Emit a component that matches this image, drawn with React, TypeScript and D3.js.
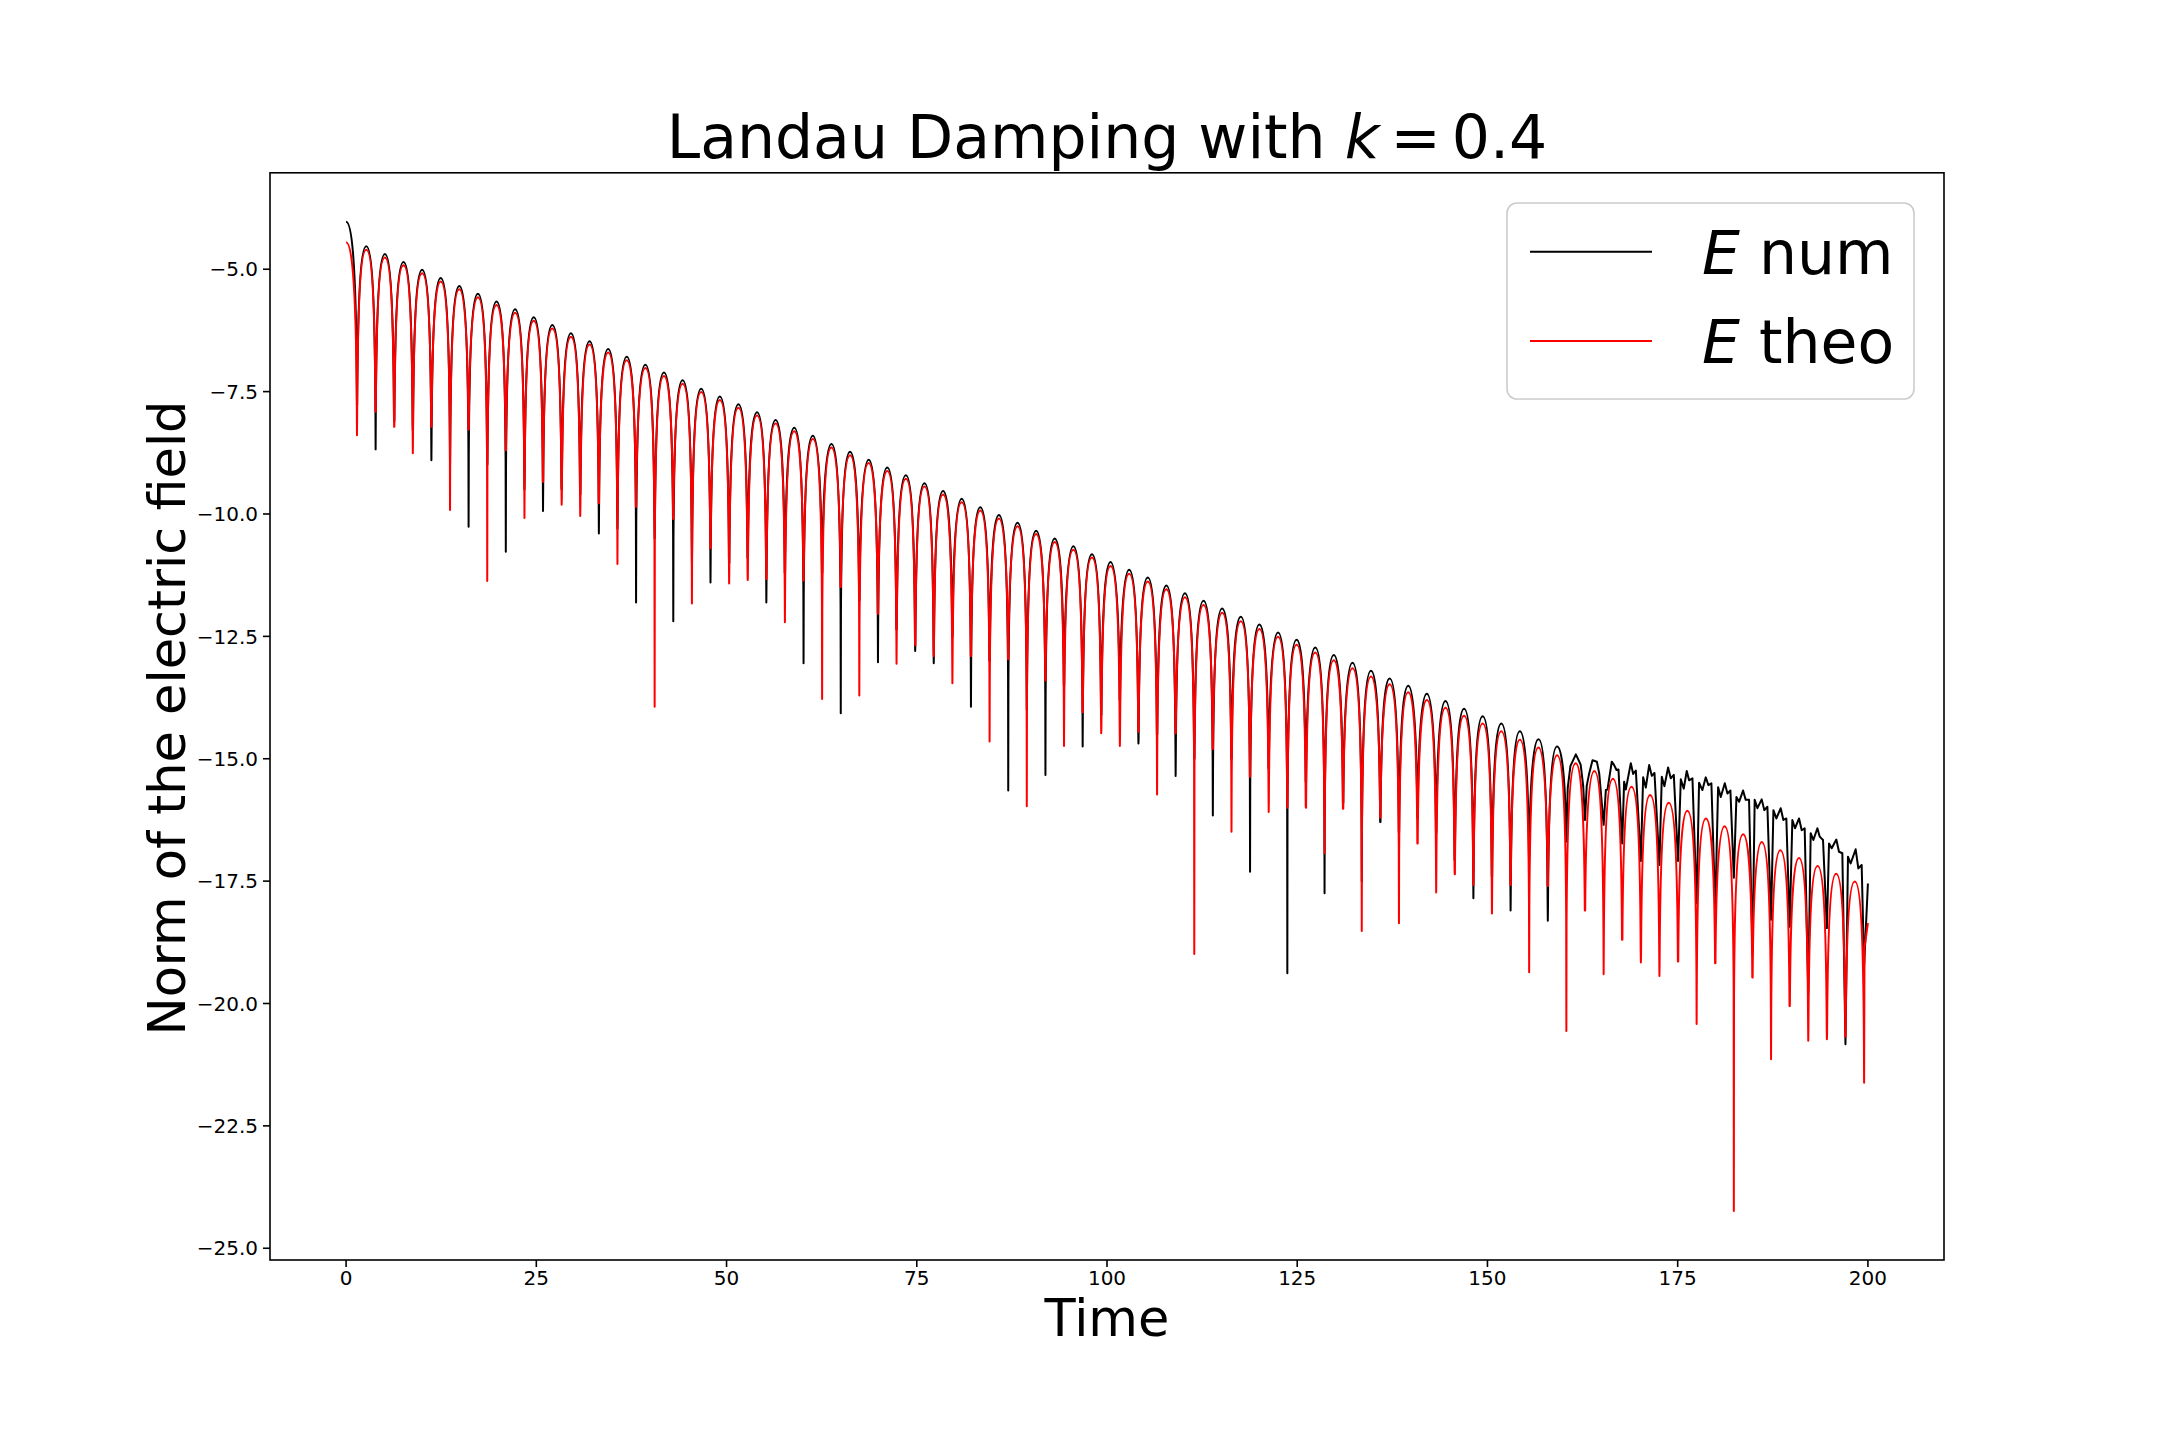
import React from 'react';
import * as d3 from 'd3';

// times of the zero crossings of E (the downward spikes)
const dipTimes = [
  1.43, 3.88, 6.32, 8.77, 11.21, 13.66, 16.10, 18.55, 20.99, 23.44,
  25.88, 28.33, 30.77, 33.22, 35.66, 38.11, 40.55, 43.00, 45.45, 47.89,
  50.34, 52.78, 55.23, 57.67, 60.12, 62.56, 65.01, 67.45, 69.90, 72.34,
  74.79, 77.23, 79.68, 82.12, 84.57, 87.02, 89.46, 91.91, 94.35, 96.80,
  99.24, 101.69, 104.13, 106.58, 109.02, 111.47, 113.91, 116.36, 118.80, 121.25,
  123.70, 126.14, 128.59, 131.03, 133.48, 135.92, 138.37, 140.81, 143.26, 145.70,
  148.15, 150.59, 153.04, 155.48, 157.93, 160.37, 162.82, 165.27, 167.71, 170.16,
  172.60, 175.05, 177.49, 179.94, 182.38, 184.83, 187.27, 189.72, 192.16, 194.61,
  197.05, 199.50,
];

// depth of each spike, theoretical curve
const dipTheo = [
  -8.39, -7.91, -8.22, -8.76, -8.22, -9.92, -8.28, -11.37, -8.70, -10.08,
  -9.34, -9.81, -10.04, -9.78, -11.02, -9.85, -13.94, -10.10, -11.83, -10.70,
  -11.42, -11.35, -11.33, -12.21, -11.36, -13.78, -11.49, -13.71, -12.04, -13.06,
  -12.68, -12.90, -13.46, -12.90, -14.65, -12.97, -15.97, -13.40, -14.74, -14.05,
  -14.48, -14.74, -14.45, -15.73, -14.48, -18.99, -14.80, -16.49, -15.37, -16.09,
  -16.00, -16.00, -16.93, -16.02, -18.52, -16.20, -18.36, -16.73, -17.73, -17.36,
  -17.58, -18.16, -17.58, -19.36, -17.60, -20.56, -18.10, -19.40, -18.70, -19.16,
  -19.44, -19.14, -20.42, -19.18, -24.24, -19.47, -21.14, -20.05, -20.76, -20.73,
  -20.68, -21.62,
];

// depth of each spike, numerical curve (up to the point where it gets noisy)
const dipNum = [
  -7.77, -8.68, -8.10, -8.30, -8.90, -9.00, -10.26, -9.00, -10.77, -9.50,
  -9.94, -9.50, -9.60, -10.40, -10.30, -11.81, -10.50, -12.19, -11.00, -11.40,
  -11.00, -10.90, -11.81, -11.20, -13.05, -11.20, -14.07, -11.76, -13.03, -12.36,
  -12.80, -13.05, -12.50, -13.94, -13.00, -15.65, -14.00, -15.33, -13.50, -14.75,
  -14.10, -13.80, -14.69, -14.50, -15.35, -15.00, -16.16, -15.00, -17.31, -15.20,
  -19.38, -15.47, -17.75, -15.90, -17.51, -16.29, -16.50, -16.20, -16.50, -17.07,
  -17.85, -17.40, -18.10, -17.00, -18.31, -16.69,
];

// crest of each arch (arch 0 = value at t = 0, arch i lies between spike i-1 and spike i)
const peakTheo = [
  -4.45, -4.60, -4.76, -4.92, -5.08, -5.25, -5.41, -5.57, -5.73, -5.89,
  -6.05, -6.21, -6.38, -6.54, -6.70, -6.86, -7.02, -7.18, -7.34, -7.51,
  -7.67, -7.83, -7.99, -8.15, -8.31, -8.47, -8.64, -8.80, -8.96, -9.12,
  -9.28, -9.44, -9.60, -9.76, -9.93, -10.09, -10.25, -10.41, -10.57, -10.73,
  -10.89, -11.06, -11.22, -11.38, -11.54, -11.70, -11.86, -12.02, -12.19, -12.35,
  -12.51, -12.67, -12.83, -12.99, -13.15, -13.32, -13.48, -13.64, -13.80, -13.96,
  -14.12, -14.28, -14.44, -14.61, -14.77, -14.93, -15.09, -15.25, -15.41, -15.57,
  -15.74, -15.90, -16.06, -16.22, -16.38, -16.54, -16.70, -16.87, -17.03, -17.19,
  -17.35, -17.51,
];

const peakNum = [
  -4.03, -4.53, -4.69, -4.85, -5.01, -5.18, -5.34, -5.50, -5.66, -5.82,
  -5.98, -6.14, -6.31, -6.47, -6.63, -6.79, -6.95, -7.11, -7.27, -7.44,
  -7.60, -7.76, -7.92, -8.08, -8.24, -8.40, -8.57, -8.73, -8.89, -9.05,
  -9.21, -9.37, -9.53, -9.69, -9.86, -10.02, -10.18, -10.34, -10.50, -10.66,
  -10.82, -10.98, -11.14, -11.30, -11.46, -11.62, -11.77, -11.93, -12.10, -12.26,
  -12.42, -12.57, -12.73, -12.88, -13.04, -13.20, -13.36, -13.51, -13.67, -13.82,
  -13.98, -14.13, -14.28, -14.44, -14.60, -14.75,
];

// last point of the theoretical curve
const theoEnd: [number, number] = [200, -18.36];

// noisy end of the numerical curve, read point by point
const numTail: [number, number][] = [
  [160.55, -15.60], [160.90, -15.15], [161.62, -14.91], [162.25, -15.12], [162.58, -15.55], [162.82, -16.25],
  [163.05, -15.55], [163.37, -15.30], [163.81, -15.03], [164.38, -15.06], [164.69, -15.30], [165.27, -16.35],
  [165.56, -15.64], [165.77, -15.63], [166.34, -15.06], [166.65, -15.13], [166.96, -15.23], [167.22, -15.22], [167.71, -16.73],
  [167.96, -15.47], [168.18, -15.63], [168.84, -15.09], [169.15, -15.31], [169.50, -15.24], [170.16, -17.09],
  [170.46, -15.38], [170.81, -15.59], [171.25, -15.13], [171.60, -15.35], [171.95, -15.29], [172.60, -17.17],
  [172.91, -15.37], [173.26, -15.56], [173.74, -15.18], [174.09, -15.40], [174.49, -15.33], [175.05, -17.09],
  [175.41, -15.42], [175.80, -15.61], [176.19, -15.25], [176.50, -15.44], [176.94, -15.40], [177.49, -17.95],
  [177.81, -15.49], [178.25, -15.64], [178.69, -15.38], [179.04, -15.54], [179.43, -15.50], [179.94, -18.10],
  [180.31, -15.58], [180.66, -15.78], [181.19, -15.50], [181.54, -15.71], [181.93, -15.65], [182.38, -17.43],
  [182.72, -15.78], [183.07, -15.88], [183.59, -15.65], [183.94, -15.84], [184.38, -15.84], [184.83, -18.97],
  [185.12, -15.84], [185.48, -16.01], [186.04, -15.83], [186.39, -16.05], [186.79, -15.98], [187.27, -18.29],
  [187.58, -16.05], [187.97, -16.22], [188.54, -16.01], [188.89, -16.25], [189.28, -16.22], [189.72, -18.43],
  [190.07, -16.25], [190.42, -16.42], [190.95, -16.22], [191.30, -16.46], [191.69, -16.42], [192.16, -19.78],
  [192.48, -16.52], [192.83, -16.66], [193.36, -16.42], [193.66, -16.59], [194.10, -16.66], [194.61, -18.46],
  [194.89, -16.73], [195.24, -16.83], [195.85, -16.65], [196.20, -16.90], [196.64, -16.93], [197.05, -20.83],
  [197.38, -17.00], [197.73, -17.14], [198.39, -16.85], [198.74, -17.24], [199.18, -17.17], [199.50, -19.25],
  [200.00, -17.55],
];

const xTicks = [0, 25, 50, 75, 100, 125, 150, 175, 200];
const yTicks = [-5, -7.5, -10, -12.5, -15, -17.5, -20, -22.5, -25];

const W = 2160;
const H = 1440;
const margin = { left: 270, right: 1944, top: 172.8, bottom: 1260 };
const FONT = '"DejaVu Sans", Verdana, sans-serif';
const DROP = 3.3; // how far under the crest the drawn arch goes before the spike

const x = d3.scaleLinear().domain([-10, 210]).range([margin.left, margin.right]);
const y = d3.scaleLinear().domain([-25.24, -3.03]).range([margin.bottom, margin.top]);

// arches of |E| in log scale, one per half period, with a spike at every zero
const archPath = (peaks: number[], dips: number[], nDips: number) => {
  const p = d3.path();
  const t0 = dipTimes[0];
  const w0 = dipTimes[1] - dipTimes[0];
  const l0 = Math.max(dips[0], peaks[0] - DROP);
  p.moveTo(x(0), y(peaks[0]));
  p.bezierCurveTo(x(t0 * 0.45), y(peaks[0]), x(t0 - 0.05 * w0), y(peaks[0] - 0.6), x(t0 - 0.01 * w0), y(l0));
  p.lineTo(x(t0), y(dips[0]));
  for (let i = 1; i < nDips; i++) {
    const ta = dipTimes[i - 1];
    const tb = dipTimes[i];
    const w = tb - ta;
    const pk = peaks[i];
    const la = Math.max(dips[i - 1], pk - DROP);
    const lb = Math.max(dips[i], pk - DROP);
    p.lineTo(x(ta + 0.01 * w), y(la));
    p.bezierCurveTo(x(ta + 0.05 * w), y(pk - 0.6), x(ta + 0.27 * w), y(pk), x(ta + 0.5 * w), y(pk));
    p.bezierCurveTo(x(tb - 0.27 * w), y(pk), x(tb - 0.05 * w), y(pk - 0.6), x(tb - 0.01 * w), y(lb));
    p.lineTo(x(tb), y(dips[i]));
  }
  return p;
};

const fmtY = (v: number) => v.toFixed(1).replace('-', '\u2212');

const App = () => {
  const theo = archPath(peakTheo, dipTheo, dipTimes.length);
  const last = dipTimes[dipTimes.length - 1];
  theo.lineTo(x(last + 0.05), y(theoEnd[1] - 0.5));
  theo.lineTo(x(theoEnd[0]), y(theoEnd[1]));

  const num = archPath(peakNum, dipNum, dipNum.length);
  numTail.forEach(([t, v]) => num.lineTo(x(t), y(v)));

  const cx = (margin.left + margin.right) / 2;

  return (
    <svg
      width={W}
      height={H}
      style={{ position: 'absolute', left: 0, top: 0, background: '#fff' }}
      fontFamily={FONT}
    >
      <defs>
        <clipPath id="plot-area">
          <rect x={margin.left} y={margin.top} width={margin.right - margin.left} height={margin.bottom - margin.top} />
        </clipPath>
      </defs>
      <rect x={0} y={0} width={W} height={H} fill="#fff" />

      <g clipPath="url(#plot-area)" fill="none" strokeWidth={2} strokeLinejoin="round">
        <path d={num.toString()} stroke="#000" />
        <path d={theo.toString()} stroke="#ff0000" />
      </g>

      {/* axes frame */}
      <rect
        x={margin.left}
        y={margin.top}
        width={margin.right - margin.left}
        height={margin.bottom - margin.top}
        fill="none"
        stroke="#000"
        strokeWidth={1.6}
      />

      {xTicks.map((t) => (
        <g key={'x' + t}>
          <line x1={x(t)} x2={x(t)} y1={margin.bottom} y2={margin.bottom + 7} stroke="#000" strokeWidth={1.6} />
          <text x={x(t)} y={1284.5} fontSize={20} textAnchor="middle">{t}</text>
        </g>
      ))}
      {yTicks.map((v) => (
        <g key={'y' + v}>
          <line x1={margin.left - 7} x2={margin.left} y1={y(v)} y2={y(v)} stroke="#000" strokeWidth={1.6} />
          <text x={258} y={y(v) + 7.2} fontSize={20} textAnchor="end">{fmtY(v)}</text>
        </g>
      ))}

      <text x={cx} y={158} fontSize={60} textAnchor="middle">
        {'Landau Damping with '}
        <tspan fontStyle="italic">k</tspan>
        <tspan dx={11}>=</tspan>
        <tspan dx={11}>0.4</tspan>
      </text>
      <text x={cx} y={1336} fontSize={51} textAnchor="middle">Time</text>
      <text transform="translate(185,718) rotate(-90)" fontSize={51} textAnchor="middle">
        Norm of the electric field
      </text>

      {/* legend */}
      <g>
        <rect x={1507} y={203} width={407} height={196} rx={10} ry={10} fill="#fff" fillOpacity={0.8} stroke="#cccccc" strokeWidth={1.6} />
        <line x1={1530} x2={1652} y1={251.7} y2={251.7} stroke="#000" strokeWidth={2} />
        <line x1={1530} x2={1652} y1={341} y2={341} stroke="#ff0000" strokeWidth={2} />
        <text x={1702} y={274} fontSize={60}>
          <tspan fontStyle="italic">E</tspan>
          {' num'}
        </text>
        <text x={1702} y={363} fontSize={60}>
          <tspan fontStyle="italic">E</tspan>
          {' theo'}
        </text>
      </g>
    </svg>
  );
};

export default App;
